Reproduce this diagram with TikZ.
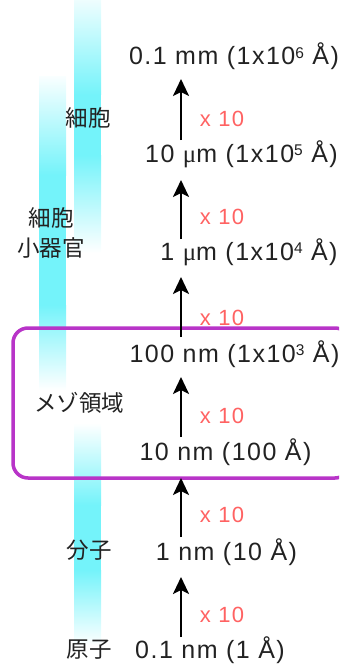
\documentclass[tikz,border=0pt]{standalone}
\usepackage{fontspec}
\setmainfont{Liberation Sans}[LetterSpace=6]
\newfontfamily\jpf{Noto Sans CJK JP}
\newfontfamily\muf{Liberation Serif}
\usetikzlibrary{arrows.meta}
\definecolor{lbl}{HTML}{222222}
\definecolor{redt}{HTML}{FF6262}
\definecolor{cy}{HTML}{74F3FA}
\definecolor{mag}{HTML}{B834C8}
\newcommand\supd[1]{\raisebox{6.5bp}{\fontsize{15.5bp}{15.5bp}\selectfont #1}}
\newcommand\mum{{\muf μ}m}
\begin{document}
\begin{tikzpicture}[x=1bp,y=-1bp,
  lab/.style={font=\fontsize{25bp}{28bp}\selectfont, text=lbl, inner sep=0pt, anchor=base},
  mult/.style={font=\fontsize{22bp}{24bp}\selectfont, text=redt, inner sep=0pt, anchor=base},
  jp/.style={font=\jpf\fontsize{22.5bp}{30bp}\selectfont, text=lbl, inner sep=0pt, align=center},
  up/.style={-{Stealth[length=17bp,width=16bp,inset=4bp]}, line width=2.6bp, black},
  mesobox/.style={draw=mag, line width=3.5bp, rounded corners=15bp}]
\clip (0,0) rectangle (339,664);
% gradient bars
\fill[top color=cy!12, bottom color=cy] (74,0) rectangle (101,95);
\fill[cy] (74,95) rectangle (101,155);
\fill[top color=cy, bottom color=white] (74,155) rectangle (101,253);
\fill[top color=cy!5, bottom color=cy] (39,77) rectangle (66,175);
\fill[cy] (39,175) rectangle (66,305);
\fill[top color=cy, bottom color=white] (39,305) rectangle (66,390);
\fill[top color=white, bottom color=cy] (74,423) rectangle (101,505);
\fill[cy] (74,505) rectangle (101,570);
\fill[top color=cy, bottom color=white] (74,570) rectangle (101,645);
% meso box
\draw[mesobox] (13,328) rectangle (350,478);
% size labels
\node[lab] (s6) at (234,65) {0.1 mm (1x10\supd{6} Å)};
\node[lab] (s5) at (241.5,162) {10 \mum{} (1x10\supd{5} Å)};
\node[lab] (s4) at (249,260) {1 \mum{} (1x10\supd{4} Å)};
\node[lab] (s3) at (234.5,362) {100 nm (1x10\supd{3} Å)};
\node[lab] (s2) at (225.5,460) {10 nm (100 Å)};
\node[lab] (s1) at (226.5,560) {1 nm (10 Å)};
\node[lab] (s0) at (210,658) {0.1 nm (1 Å)};
% multipliers
\node[mult] (m6) at (222,127) {x 10};
\node[mult] (m5) at (222,224) {x 10};
\node[mult] (m4) at (222,325) {x 10};
\node[mult] (m3) at (222,423) {x 10};
\node[mult] (m2) at (222,522) {x 10};
\node[mult] (m1) at (222,622) {x 10};
% japanese labels
\node[jp] (cell) at (88,118) {細胞};
\node[jp] (organelle) at (51,233) {細胞\\小器官};
\node[jp] (meso) at (79,403) {メゾ領域};
\node[jp] (mol) at (89,550) {分子};
\node[jp] (atom) at (89,650) {原子};
% arrows
\coordinate (a6b) at (181,140); \coordinate (a6t) at (181,79);
\coordinate (a5b) at (181,239); \coordinate (a5t) at (181,180);
\coordinate (a4b) at (181,337); \coordinate (a4t) at (181,277);
\coordinate (a3b) at (181,437); \coordinate (a3t) at (181,377);
\coordinate (a2b) at (181,537); \coordinate (a2t) at (181,478);
\coordinate (a1b) at (181,637); \coordinate (a1t) at (181,577);
\draw[up] (a6b) -- (a6t);
\draw[up] (a5b) -- (a5t);
\draw[up] (a4b) -- (a4t);
\draw[up] (a3b) -- (a3t);
\draw[up] (a2b) -- (a2t);
\draw[up] (a1b) -- (a1t);
\end{tikzpicture}
\end{document}
